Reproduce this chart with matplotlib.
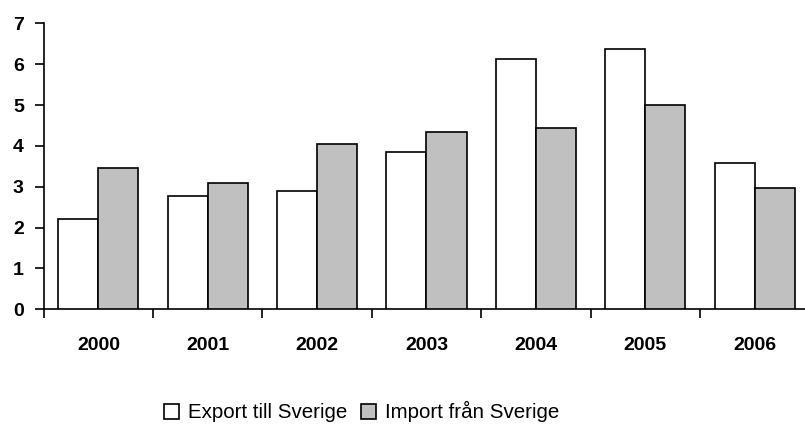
import numpy as np
from matplotlib import pyplot as plt
from matplotlib.patches import Patch

years = ['2000', '2001', '2002', '2003', '2004', '2005', '2006']
export_sverige = [2.2, 2.78, 2.89, 3.86, 6.12, 6.36, 3.57]
import_sverige = [3.47, 3.08, 4.05, 4.35, 4.45, 4.99, 2.98]
series_names = ['Export till Sverige', 'Import från Sverige']

font = ['Liberation Sans', 'DejaVu Sans']
plt.rcParams['font.family'] = font

fig = plt.figure(figsize=(8.05, 4.24), dpi=100)
ax = fig.add_axes([0.0543, 0.2705, 0.951, 0.6745])

x = np.arange(len(years))
w = 0.366
ax.bar(x - w / 2, export_sverige, w, color='white', edgecolor='black', linewidth=1.2, zorder=3)
ax.bar(x + w / 2, import_sverige, w, color='#c0c0c0', edgecolor='black', linewidth=1.2, zorder=3)

ax.set_xlim(-0.5, len(years) - 0.5)
ax.set_ylim(0, 7)
ax.set_yticks(range(8))
ax.set_xticks(x)
ax.set_xticklabels(years)
ax.set_xticks(np.arange(len(years) + 1) - 0.5, minor=True)

for s in ['top', 'right']:
    ax.spines[s].set_visible(False)
for s in ['left', 'bottom']:
    ax.spines[s].set_linewidth(1.2)

ax.tick_params(axis='y', length=6.3, width=1.2, pad=8, labelsize=14)
ax.tick_params(axis='x', which='major', length=0, pad=20, labelsize=14)
ax.tick_params(axis='x', which='minor', length=6.5, width=1.2)
for lab in ax.get_xticklabels() + ax.get_yticklabels():
    lab.set_fontweight('bold')

handles = [Patch(facecolor='white', edgecolor='black', linewidth=1.2),
           Patch(facecolor='#c0c0c0', edgecolor='black', linewidth=1.2)]
fig.legend(handles, series_names, loc='center', bbox_to_anchor=(0.449, 0.029),
           ncol=2, frameon=False, fontsize=14.8, handlelength=0.74, handleheight=0.74,
           handletextpad=0.45, columnspacing=0.65, borderpad=0)

fig.savefig('out.png', dpi=100)
